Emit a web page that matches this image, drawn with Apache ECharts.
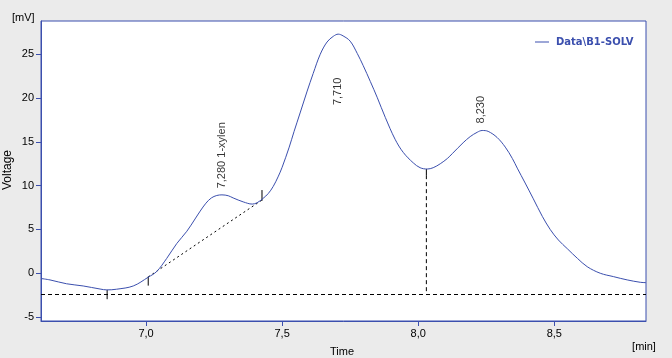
<!DOCTYPE html>
<html>
<head>
<meta charset="utf-8">
<script src="https://cdn.jsdelivr.net/npm/echarts@6/dist/echarts.min.js"></script>
<style>
html,body{margin:0;padding:0;background:#ebebeb;}
#c{width:672px;height:358px;}
</style>
</head>
<body>
<div id="c"></div>
<script>
// Chromatogram trace: time [min] and voltage [mV]
var times = [6.614,6.647,6.708,6.769,6.831,6.856,6.892,6.953,7.008,7.039,7.076,7.113,7.150,7.180,7.199,7.220,7.240,7.260,7.279,7.302,7.320,7.357,7.390,7.408,7.430,7.449,7.467,7.485,7.500,7.526,7.544,7.566,7.592,7.614,7.640,7.665,7.688,7.706,7.724,7.750,7.776,7.798,7.824,7.849,7.879,7.915,7.945,7.982,8.007,8.033,8.055,8.081,8.107,8.125,8.165,8.191,8.217,8.235,8.257,8.290,8.320,8.346,8.364,8.393,8.423,8.456,8.485,8.515,8.548,8.585,8.621,8.669,8.717,8.768,8.816,8.837];
var volts = [-0.6,-0.76,-1.2,-1.45,-1.8,-1.9,-1.82,-1.45,-0.45,0.2,1.7,3.4,4.8,6.2,7.1,8.0,8.6,8.88,8.95,8.85,8.6,8.15,7.9,8.05,8.55,9.1,9.9,11.0,12.1,14.4,16.2,18.3,20.8,22.8,25.0,26.4,27.05,27.3,27.1,26.5,25.1,23.7,21.9,20.1,17.8,15.3,13.8,12.6,12.05,11.9,12.05,12.5,13.1,13.65,14.9,15.6,16.1,16.3,16.2,15.5,14.4,13.1,12.0,10.3,8.5,6.5,5.0,3.8,2.8,1.7,0.75,0.0,-0.38,-0.76,-1.03,-1.07];

// Axis ticks
var xTicks = [7.0, 7.5, 8.0, 8.5];
var yTicks = [-5, 0, 5, 10, 15, 20, 25];

// Peak annotations
var peakTimes = [7.278, 7.706, 8.231];
var peakLabelY = [9.7, 19.2, 17.1];
var peakLabels = ['7,280 1-xylen', '7,710', '8,230'];

// Integration baseline and markers
var baselineLevel = -2.36;
var peakBase = [[7.008, -0.42], [7.426, 8.36]];
var boundaryTicks = [[6.857, -1.9, -2.96], [7.008, -0.39, -1.41], [7.426, 9.5, 8.28]];
var dropTime = 8.03, dropTop = 11.9, dropSolidEnd = 11.2;

var seriesName = 'Data\\B1-SOLV';
var blue = '#3b4fae';
var font = '"Liberation Sans", Arial, sans-serif';

var curve = times.map(function (t, i) { return [t, volts[i]]; });

var series = [{
  name: seriesName, type: 'line', data: curve, symbol: 'none', smooth: 0.35,
  lineStyle: { color: blue, width: 1 }, itemStyle: { color: blue }, z: 5,
  markLine: {
    silent: true, symbol: 'none', label: { show: false },
    lineStyle: { color: '#000', width: 1, type: [4, 3] },
    data: [{ yAxis: baselineLevel }]
  }
}, {
  type: 'line', data: peakBase, symbol: 'none', silent: true,
  lineStyle: { color: '#000', width: 1, type: [2, 3] }
}];
boundaryTicks.forEach(function (b) {
  series.push({ type: 'line', data: [[b[0], b[1]], [b[0], b[2]]], symbol: 'none', silent: true,
    lineStyle: { color: '#000', width: 1 } });
});
series.push({ type: 'line', data: [[dropTime, dropTop], [dropTime, dropSolidEnd]], symbol: 'none', silent: true,
  lineStyle: { color: '#000', width: 1 } });
series.push({ type: 'line', data: [[dropTime, dropSolidEnd], [dropTime, baselineLevel]], symbol: 'none', silent: true,
  lineStyle: { color: '#000', width: 1, type: [4, 3] } });
series.push({
  type: 'scatter', silent: true, symbolSize: 1, itemStyle: { color: 'rgba(0,0,0,0)' }, z: 10,
  data: peakTimes.map(function (t, i) { return { value: [t, peakLabelY[i]], name: peakLabels[i] }; }),
  label: {
    show: true, position: 'inside', rotate: 90, align: 'left', verticalAlign: 'middle',
    formatter: function (p) { return p.name; },
    color: '#000', fontFamily: font, fontSize: 11
  }
});

var chart = echarts.init(document.getElementById('c'));
chart.setOption({
  animation: false,
  backgroundColor: '#ebebeb',
  textStyle: { fontFamily: font },
  grid: { left: 41, right: 26, top: 21, bottom: 37, show: true, backgroundColor: '#fff', borderColor: blue, borderWidth: 1 },
  legend: {
    data: [{ name: seriesName, icon: 'rect' }], left: 535, top: 37, padding: 0, itemWidth: 14, itemHeight: 1, itemGap: 0,
    itemStyle: { color: blue },
    textStyle: { color: blue, fontWeight: 'bold', fontFamily: '"DejaVu Sans", sans-serif', fontSize: 10, padding: [0, 0, 0, 2] }
  },
  xAxis: {
    type: 'value', min: 6.614, max: 8.837,
    axisLine: { show: true, onZero: false, lineStyle: { color: blue, width: 1 } },
    axisTick: { show: true, length: 5, customValues: xTicks, lineStyle: { color: blue } },
    axisLabel: { customValues: xTicks, margin: 7, color: '#000', fontSize: 11, fontFamily: font,
      formatter: function (v) { return v.toFixed(1).replace('.', ','); } },
    splitLine: { show: false }
  },
  yAxis: {
    type: 'value', min: -5.45, max: 28.8,
    axisLine: { show: true, onZero: false, lineStyle: { color: blue, width: 1 } },
    axisTick: { show: true, length: 5, customValues: yTicks, lineStyle: { color: blue } },
    axisLabel: { customValues: yTicks, margin: 7, color: '#000', fontSize: 11, fontFamily: font,
      formatter: function (v) { return String(Math.round(v)); } },
    splitLine: { show: false }
  },
  graphic: [
    { type: 'text', left: 12, top: 12, style: { text: '[mV]', fill: '#000', font: '11px ' + font } },
    { type: 'text', x: 8, y: 170, rotation: Math.PI / 2, style: { text: 'Voltage', fill: '#000', font: '12px ' + font, align: 'center', verticalAlign: 'middle' } },
    { type: 'text', x: 342, y: 352, style: { text: 'Time', fill: '#000', font: '11px ' + font, align: 'center', verticalAlign: 'middle' } },
    { type: 'text', x: 644, y: 347, style: { text: '[min]', fill: '#000', font: '11px ' + font, align: 'center', verticalAlign: 'middle' } }
  ],
  series: series
});
</script>
</body>
</html>
